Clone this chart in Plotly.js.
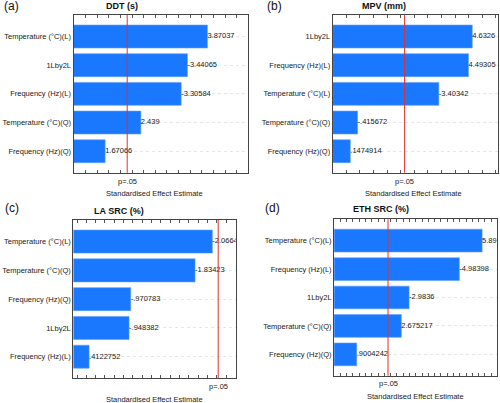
<!DOCTYPE html>
<html>
<head>
<meta charset="utf-8">
<script src="https://cdn.plot.ly/plotly-3.0.1.min.js"></script>
<style>html,body{margin:0;padding:0;background:#fff;}#chart{width:500px;height:403px;}</style>
</head>
<body>
<div id="chart"></div>
<script>
// ---- data ----
const catsA = ['Temperature (°C)(L)', '1Lby2L', 'Frequency (Hz)(L)', 'Temperature (°C)(Q)', 'Frequency (Hz)(Q)'];
const effA  = [3.87037, -3.44065, -3.30584, 2.439, 1.67066];
const catsB = ['1Lby2L', 'Frequency (Hz)(L)', 'Temperature (°C)(L)', 'Temperature (°C)(Q)', 'Frequency (Hz)(Q)'];
const effB  = [4.6326, 4.49305, -3.40342, -0.415672, 0.1474914];
const catsC = ['Temperature (°C)(L)', 'Temperature (°C)(Q)', 'Frequency (Hz)(Q)', '1Lby2L', 'Frequency (Hz)(L)'];
const effC  = [-2.0664, -1.83423, -0.970783, -0.948382, 0.4122752];
const catsD = ['Temperature (°C)(L)', 'Frequency (Hz)(L)', '1Lby2L', 'Temperature (°C)(Q)', 'Frequency (Hz)(Q)'];
const effD  = [5.89, -4.98398, -2.9836, 2.675217, 0.9004242];
const panelTitles  = ['DDT (s)', 'MPV (mm)', 'LA SRC (%)', 'ETH SRC (%)'];
const panelLetters = ['(a)', '(b)', '(c)', '(d)'];
const pCrit = 2.145;
const pLabel = 'p=.05';
const xTitle = 'Standardised Effect Estimate';

// ---- layout geometry (pixels) ----
const W = 500, H = 403;
const panels = [
  {cats: catsA, eff: effA, box: [73.5, 15, 248.3, 172.7], xr: [0.99, 4.75], dt: 0.25,
   title: [121.5, 6], letter: [2, 6], p: [127, 181], xt: [154.5, 193]},
  {cats: catsB, eff: effB, box: [332.7, 15, 498.3, 172.7], xr: [-0.50, 5.59], dt: 0.5,
   title: [383.7, 6], letter: [265, 6], p: [405, 181], xt: [413.3, 193]},
  {cats: catsC, eff: effC, box: [73.3, 220, 235.7, 378.3], xr: [0.20, 2.38], dt: 0.125,
   title: [118.8, 211], letter: [3, 207.5], p: [217.3, 386.7], xt: [154.5, 399]},
  {cats: catsD, eff: effD, box: [334.1, 219.3, 496.7, 375.7], xr: [0.0, 6.47], dt: 0.25,
   title: [380.5, 209.3], letter: [263, 207.5], p: [388, 383.3], xt: [415.2, 396.7]}
];
const px = x => x / W;
const py = y => 1 - y / H;
const fmt = v => String(v).replace(/^(-?)0\./, '$1.');
const FONT = 'Liberation Sans, Arial, sans-serif';

const data = [];
const layout = {
  width: W, height: H, margin: {l: 0, r: 0, t: 0, b: 0},
  paper_bgcolor: '#fff', plot_bgcolor: '#fff', showlegend: false,
  font: {family: FONT, size: 7.5, color: '#1a1a1a'},
  annotations: [], shapes: []
};

panels.forEach((p, i) => {
  const n = i + 1;
  const xa = 'x' + (n === 1 ? '' : n), ya = 'y' + (n === 1 ? '' : n);
  const xk = 'xaxis' + (n === 1 ? '' : n), yk = 'yaxis' + (n === 1 ? '' : n);
  const base = p.xr[0];
  data.push({
    type: 'bar', orientation: 'h', xaxis: xa, yaxis: ya,
    y: p.cats, x: p.eff.map(v => Math.abs(v) - base), base: base,
    width: 0.8,
    marker: {color: '#1a78ff', line: {color: '#5aa0ff', width: 0.6}},
    cliponaxis: true, hoverinfo: 'skip'
  });
  data.push({
    type: 'scatter', mode: 'text', xaxis: xa, yaxis: ya,
    y: p.cats, x: p.eff.map(v => Math.abs(v)),
    text: p.eff.map(fmt), textposition: 'middle right',
    textfont: {family: FONT, size: 7.5, color: '#1a1a1a'},
    cliponaxis: true, hoverinfo: 'skip'
  });
  layout[xk] = {
    domain: [px(p.box[0]), px(p.box[2])], anchor: ya, range: p.xr,
    showticklabels: false, ticks: 'inside', ticklen: 3, tickcolor: '#555', tickwidth: 1,
    tick0: 0, dtick: p.dt, mirror: 'allticks', showline: true, linecolor: '#444', linewidth: 1,
    showgrid: false, zeroline: false, fixedrange: true
  };
  layout[yk] = {
    domain: [py(p.box[3]), py(p.box[1])], anchor: xa, type: 'category',
    categoryorder: 'array', categoryarray: p.cats, range: [4.75, -0.75],
    showline: true, mirror: true, linecolor: '#444', linewidth: 1, ticks: '',
    showgrid: true, gridcolor: '#e6e6e6', griddash: 'dot', gridwidth: 1,
    zeroline: false, tickfont: {family: FONT, size: 7.5, color: '#1a1a1a'}, fixedrange: true
  };
  layout.shapes.push({
    type: 'line', xref: xa, yref: ya + ' domain', x0: pCrit, x1: pCrit, y0: 0, y1: 1,
    line: {color: '#e0302a', width: 1}, layer: 'above'
  });
  layout.annotations.push(
    {text: '<b>' + panelTitles[i] + '</b>', xref: 'paper', yref: 'paper', x: px(p.title[0]), y: py(p.title[1]),
     xanchor: 'center', yanchor: 'middle', showarrow: false, font: {family: FONT, size: 9, color: '#111'}},
    {text: panelLetters[i], xref: 'paper', yref: 'paper', x: px(p.letter[0]), y: py(p.letter[1]),
     xanchor: 'left', yanchor: 'middle', showarrow: false, font: {family: FONT, size: 12, color: '#111'}},
    {text: pLabel, xref: xa, yref: 'paper', x: pCrit, y: py(p.p[1]),
     xanchor: 'center', yanchor: 'middle', showarrow: false, font: {family: FONT, size: 7.5, color: '#1a1a1a'}},
    {text: xTitle, xref: 'paper', yref: 'paper', x: px(p.xt[0]), y: py(p.xt[1]),
     xanchor: 'center', yanchor: 'middle', showarrow: false, font: {family: FONT, size: 7.5, color: '#1a1a1a'}}
  );
});

Plotly.newPlot('chart', data, layout, {displayModeBar: false, staticPlot: true});
</script>
</body>
</html>
